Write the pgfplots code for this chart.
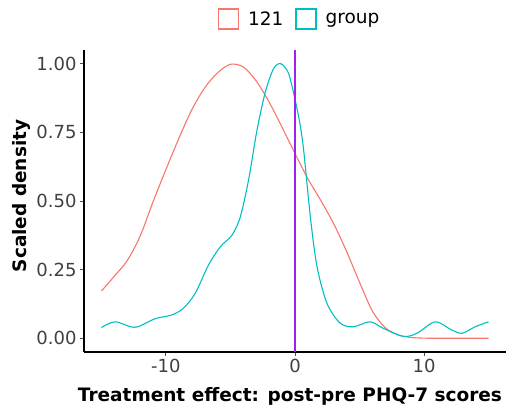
\documentclass[border=0pt]{standalone}
\usepackage{fontspec}
\setmainfont{DejaVu Sans}
\usepackage{pgfplots}
\pgfplotsset{compat=1.18}
\definecolor{c121}{HTML}{F8766D}
\definecolor{cgrp}{HTML}{00BFC4}
\definecolor{vline}{HTML}{A020F0}
\begin{document}
\begin{tikzpicture}
\path[use as bounding box] (-84pt,-57pt) rectangle (436pt,352pt);
\begin{axis}[
  at={(0pt,0pt)}, anchor=south west,
  scale only axis, width=422pt, height=302pt,
  xmin=-16.35, xmax=16.35, ymin=-0.05, ymax=1.05,
  axis lines=left,
  axis line style={-, line width=1.4pt, black},
  xtick={-10,0,10}, xticklabels={-10,0,10},
  ytick={0,0.25,0.5,0.75,1}, yticklabels={0.00,0.25,0.50,0.75,1.00},
  tick align=outside, major tick length=4pt,
  tick style={black!70, line width=0.9pt},
  ticklabel style={font=\fontsize{18}{20}\selectfont, text=black!75},
  xlabel={Treatment effect: post-pre PHQ-7 scores},
  ylabel={Scaled density},
  label style={font=\fontsize{18.5}{22}\selectfont\bfseries},
  xlabel style={at={(axis description cs:0.488,-0.1623)}, anchor=base},
  ylabel style={at={(axis description cs:-0.1481,0.517)}, anchor=center},
  legend style={at={(axis description cs:0.511,1.1026)}, anchor=center,
    draw=none, fill=none, font=\fontsize{18.5}{22}\selectfont,
    /tikz/every odd column/.append style={column sep=7pt},
    /tikz/every even column/.append style={column sep=10pt}},
  legend columns=-1,
  legend image code/.code={\draw[#1, line width=1.2pt] (0pt,-10pt) rectangle (20pt,10pt);},
]
\addplot[c121, line width=1.1pt, smooth, no marks] coordinates {
(-15,0.172) (-14,0.226) (-13,0.283) (-12,0.372) (-11,0.497)
(-10,0.615) (-9,0.728) (-8,0.832) (-7,0.912) (-6,0.967)
(-5,0.998) (-4,0.988) (-3,0.937) (-2,0.860) (-1,0.768)
(0,0.673) (1,0.581) (2,0.502) (3,0.417) (4,0.316)
(5,0.204) (6,0.099) (7,0.038) (8,0.012) (9,0.003)
(10,0.0005) (11,0) (12,0) (13,0) (14,0) (15,0)
};
\addlegendentry{121}
\addplot[cgrp, line width=1.1pt, smooth, no marks] coordinates {
(-15,0.039) (-13.94,0.060) (-12.4,0.040) (-10.85,0.071) (-9.55,0.085)
(-8.65,0.109) (-7.73,0.164) (-6.7,0.267) (-5.79,0.333) (-4.88,0.376)
(-4.24,0.442) (-3.6,0.576) (-2.95,0.757) (-2.3,0.897) (-1.66,0.982)
(-1.1,1.0) (-0.5,0.965) (0,0.87) (0.35,0.79) (0.67,0.685)
(1.19,0.442) (1.71,0.26) (2.48,0.127) (3.5,0.055) (4.53,0.042)
(5.82,0.060) (6.85,0.036) (8.4,0.007) (9.44,0.018) (10.86,0.060)
(12.03,0.033) (12.93,0.018) (13.96,0.042) (15,0.060)
};
\addlegendentry{group}
\addplot[vline, line width=1.5pt, forget plot] coordinates {(0,-0.05) (0,1.05)};
\end{axis}
\end{tikzpicture}
\end{document}
